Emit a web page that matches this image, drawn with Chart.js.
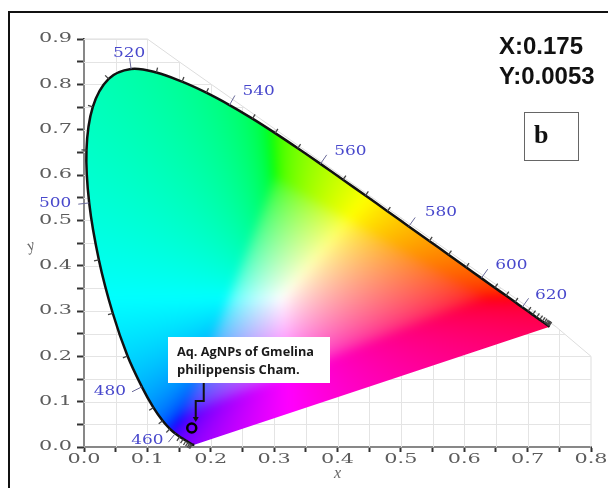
<!DOCTYPE html>
<html>
<head>
<meta charset="utf-8">
<script src="https://cdn.jsdelivr.net/npm/chart.js@4.4.1/dist/chart.umd.min.js"></script>
<style>
	html, body { margin: 0; padding: 0; background: #fff; }
	canvas { display: block; }
</style>
</head>
<body>
<canvas id="cieChart" width="608" height="488"></canvas>
<script>
// CIE 1931 spectral locus, as drawn in the reference
var wavelengths = [380, 385, 390, 395, 400, 405, 410, 415, 420, 425, 430, 435,
		440, 445, 450, 455, 460, 465, 470, 475, 480, 485, 490, 495, 500, 505,
		510, 515, 520, 525, 530, 535, 540, 545, 550, 555, 560, 565, 570, 575,
		580, 585, 590, 595, 600, 605, 610, 615, 620, 625, 630, 635, 640, 645,
		650, 655, 660, 665, 670, 680, 690, 700];
var locusX = [0.1741, 0.1740, 0.1738, 0.1736, 0.1733, 0.1730, 0.1726, 0.1721,
		0.1714, 0.1703, 0.1689, 0.1669, 0.1644, 0.1611, 0.1566, 0.1510, 0.1440,
		0.1355, 0.1241, 0.1096, 0.0913, 0.0687, 0.0454, 0.0235, 0.0082, 0.0039,
		0.0139, 0.0389, 0.0743, 0.1142, 0.1547, 0.1929, 0.2296, 0.2658, 0.3016,
		0.3373, 0.3731, 0.4087, 0.4441, 0.4788, 0.5125, 0.5448, 0.5752, 0.6029,
		0.6270, 0.6482, 0.6658, 0.6801, 0.6915, 0.7006, 0.7079, 0.7140, 0.7190,
		0.7230, 0.7260, 0.7283, 0.7300, 0.7311, 0.7320, 0.7334, 0.7344, 0.7347];
var locusY = [0.0050, 0.0050, 0.0049, 0.0049, 0.0048, 0.0048, 0.0048, 0.0048,
		0.0051, 0.0058, 0.0069, 0.0086, 0.0109, 0.0138, 0.0177, 0.0227, 0.0297,
		0.0399, 0.0578, 0.0868, 0.1327, 0.2007, 0.2950, 0.4127, 0.5384, 0.6548,
		0.7502, 0.8120, 0.8338, 0.8262, 0.8059, 0.7816, 0.7543, 0.7243, 0.6923,
		0.6589, 0.6245, 0.5896, 0.5547, 0.5202, 0.4866, 0.4544, 0.4242, 0.3965,
		0.3725, 0.3514, 0.3340, 0.3197, 0.3083, 0.2993, 0.2920, 0.2859, 0.2809,
		0.2770, 0.2740, 0.2717, 0.2700, 0.2689, 0.2680, 0.2666, 0.2656, 0.2653];
var labelledWavelengths = [460, 480, 500, 520, 540, 560, 580, 600, 620];

// sample point
var sampleX = [0.170];
var sampleY = [0.042];
var sampleLabel = ['Aq. AgNPs of Gmelina', 'philippensis Cham.'];
var coordText = ['X:0.175', 'Y:0.0053'];
var panelLetter = 'b';

(function() {
	'use strict';
	var fillCanvas = null;
	var FILL_MARGIN = 30;

	// outline of the faint grid behind the diagram (data units)
	var gridOutline = [ [0, 0], [0, 0.9], [0.1, 0.9], [0.15, 0.85],
			[0.745, 0.265], [0.8, 0.2], [0.8, 0] ];
	// where each wavelength label sits, relative to its locus point (px)
	var labelOffsets = {
		460 : [-28, 7], 480 : [-32, 5], 500 : [-34, 1], 520 : [-2, -15],
		540 : [29, -13], 560 : [30, -12], 580 : [32, -14], 600 : [30, -13],
		620 : [29, -12]
	};

	function gammaC(c) {
		return c <= 0.0031308 ? 12.92 * c : 1.055 * Math.pow(c, 1 / 2.4) - 0.055;
	}

	function chromaColour(x, y) {
		x = Math.max(x, 0);
		y = Math.max(y, 0.002);
		var X = x / y, Y = 1, Z = Math.max(1 - x - y, 0) / y;
		var r = 3.2406 * X - 1.5372 * Y - 0.4986 * Z;
		var g = -0.9689 * X + 1.8758 * Y + 0.0415 * Z;
		var b = 0.0557 * X - 0.2040 * Y + 1.0570 * Z;
		var m = Math.min(r, g, b);
		if (m < 0) {
			r -= m; g -= m; b -= m;
		}
		var mx = Math.max(r, g, b);
		if (mx <= 0) {
			return [255, 255, 255];
		}
		return [ gammaC(r / mx) * 255, gammaC(g / mx) * 255, gammaC(b / mx) * 255 ];
	}

	function buildFill(chart) {
		var a = chart.chartArea, xs = chart.scales.x, ys = chart.scales.y;
		var w = Math.ceil(a.right - a.left) + 2 * FILL_MARGIN;
		var h = Math.ceil(a.bottom - a.top) + 2 * FILL_MARGIN;
		var raw = document.createElement('canvas');
		raw.width = w;
		raw.height = h;
		var rx = raw.getContext('2d');
		var img = rx.createImageData(w, h);
		for (var j = 0; j < h; j++) {
			var yv = ys.getValueForPixel(a.top - FILL_MARGIN + j + 0.5);
			for (var i = 0; i < w; i++) {
				var xv = xs.getValueForPixel(a.left - FILL_MARGIN + i + 0.5);
				var col = chromaColour(xv, yv);
				var k = (j * w + i) * 4;
				img.data[k] = col[0];
				img.data[k + 1] = col[1];
				img.data[k + 2] = col[2];
				img.data[k + 3] = 255;
			}
		}
		rx.putImageData(img, 0, 0);
		// soften the gamut ridges, as in the reference
		var c = document.createElement('canvas');
		c.width = w;
		c.height = h;
		var cx = c.getContext('2d');
		cx.filter = 'blur(5px)';
		cx.drawImage(raw, 0, 0);
		return c;
	}

	function locusPath(chart, ctx) {
		var meta = chart.getDatasetMeta(0);
		var line = meta.dataset;
		ctx.beginPath();
		var done = false;
		try {
			if (line && typeof line.path === 'function') {
				if (typeof line.updateControlPoints === 'function') {
					line.updateControlPoints(chart.chartArea, meta.iScale.axis);
				}
				line.path(ctx);
				done = true;
			}
		} catch (e) {
			done = false;
			ctx.beginPath();
		}
		if (!done) {
			meta.data.forEach(function(p, i) {
				if (i === 0) {
					ctx.moveTo(p.x, p.y);
				} else {
					ctx.lineTo(p.x, p.y);
				}
			});
		}
		ctx.closePath();
	}

	function wideText(ctx, text, x, y, align, sx) {
		ctx.save();
		ctx.translate(x, y);
		ctx.scale(sx, 1);
		ctx.textAlign = align;
		ctx.textBaseline = 'middle';
		ctx.fillText(text, 0, 0);
		ctx.restore();
	}

	var ciePlugin = {
		id : 'cieDiagram',
		beforeDatasetsDraw : function(chart) {
			var ctx = chart.ctx, xs = chart.scales.x, ys = chart.scales.y;
			var v;
			// faint grid
			ctx.save();
			ctx.beginPath();
			gridOutline.forEach(function(p, i) {
				var px = xs.getPixelForValue(p[0]), py = ys.getPixelForValue(p[1]);
				if (i === 0) {
					ctx.moveTo(px, py);
				} else {
					ctx.lineTo(px, py);
				}
			});
			ctx.closePath();
			ctx.strokeStyle = '#dddddd';
			ctx.lineWidth = 1;
			ctx.stroke();
			ctx.clip();
			ctx.beginPath();
			for (v = 0.05; v <= 0.8001; v += 0.05) {
				var gx = Math.round(xs.getPixelForValue(v)) + 0.5;
				ctx.moveTo(gx, ys.getPixelForValue(0));
				ctx.lineTo(gx, ys.getPixelForValue(0.9));
			}
			for (v = 0.05; v <= 0.9001; v += 0.05) {
				var gy = Math.round(ys.getPixelForValue(v)) + 0.5;
				ctx.moveTo(xs.getPixelForValue(0), gy);
				ctx.lineTo(xs.getPixelForValue(0.8), gy);
			}
			ctx.strokeStyle = '#e4e4e4';
			ctx.stroke();
			ctx.restore();

			// colour gamut
			if (!fillCanvas) {
				fillCanvas = buildFill(chart);
			}
			ctx.save();
			locusPath(chart, ctx);
			ctx.clip();
			ctx.drawImage(fillCanvas, chart.chartArea.left - FILL_MARGIN,
					chart.chartArea.top - FILL_MARGIN);
			ctx.restore();
		},
		afterDatasetsDraw : function(chart) {
			var ctx = chart.ctx;
			var pts = chart.getDatasetMeta(0).data;
			var cx = 0, cy = 0;
			pts.forEach(function(p) {
				cx += p.x;
				cy += p.y;
			});
			cx /= pts.length;
			cy /= pts.length;

			ctx.save();
			for (var i = 1; i < pts.length - 1; i++) {
				var tx = pts[i + 1].x - pts[i - 1].x, ty = pts[i + 1].y - pts[i - 1].y;
				var len = Math.sqrt(tx * tx + ty * ty);
				if (len < 1.5) {
					continue;
				}
				var nx = -ty / len, ny = tx / len;
				if (nx * (pts[i].x - cx) + ny * (pts[i].y - cy) < 0) {
					nx = -nx;
					ny = -ny;
				}
				var wl = wavelengths[i];
				var labelled = labelledWavelengths.indexOf(wl) >= 0;
				ctx.beginPath();
				ctx.moveTo(pts[i].x, pts[i].y);
				ctx.lineTo(pts[i].x + nx * (labelled ? 11 : 5), pts[i].y + ny * (labelled ? 11 : 5));
				ctx.strokeStyle = labelled ? '#6a6a9a' : '#444';
				ctx.lineWidth = labelled ? 1 : 1.3;
				ctx.stroke();
				if (labelled) {
					var off = labelOffsets[wl];
					ctx.fillStyle = '#4848cc';
					ctx.font = '13px "DejaVu Serif"';
					wideText(ctx, String(wl), pts[i].x + off[0], pts[i].y + off[1], 'center', 1.3);
				}
			}
			ctx.restore();

			// label box and arrow to the sample point
			var sp = chart.getDatasetMeta(1).data[0];
			ctx.save();
			ctx.fillStyle = '#ffffff';
			ctx.fillRect(168, 337, 162, 46);
			ctx.fillStyle = '#1a1a1a';
			ctx.font = 'bold 13px "Open Sans"';
			ctx.textBaseline = 'middle';
			ctx.textAlign = 'left';
			ctx.fillText(sampleLabel[0], 177, 352, 137);
			ctx.fillText(sampleLabel[1], 177, 370, 137);
			ctx.strokeStyle = '#111';
			ctx.lineWidth = 2;
			ctx.beginPath();
			ctx.moveTo(sp.x + 12, 383);
			ctx.lineTo(sp.x + 12, 401);
			ctx.lineTo(sp.x + 4, 401);
			ctx.lineTo(sp.x + 4, sp.y - 10);
			ctx.stroke();
			ctx.fillStyle = '#111';
			ctx.beginPath();
			ctx.moveTo(sp.x + 1, sp.y - 11);
			ctx.lineTo(sp.x + 7, sp.y - 11);
			ctx.lineTo(sp.x + 4, sp.y - 6);
			ctx.closePath();
			ctx.fill();
			ctx.restore();
		},
		afterDraw : function(chart) {
			var ctx = chart.ctx, xs = chart.scales.x, ys = chart.scales.y;
			var k;
			ctx.save();
			ctx.fillStyle = '#5c5c5c';
			ctx.font = '13px "DejaVu Serif"';
			for (k = 0; k <= 9; k++) {
				wideText(ctx, (k / 10).toFixed(1), 72, ys.getPixelForValue(k / 10), 'right', 1.6);
			}
			for (k = 0; k <= 8; k++) {
				wideText(ctx, (k / 10).toFixed(1), xs.getPixelForValue(k / 10), 460, 'center', 1.6);
			}
			ctx.font = 'italic 16px "Liberation Serif"';
			ctx.fillStyle = '#666';
			ctx.textAlign = 'center';
			ctx.textBaseline = 'middle';
			ctx.fillText('x', (chart.chartArea.left + chart.chartArea.right) / 2, 474);
			ctx.save();
			ctx.translate(31, 246);
			ctx.rotate(-0.35);
			ctx.fillText('y', 0, 0);
			ctx.restore();

			// coordinates and panel letter
			ctx.fillStyle = '#111';
			ctx.font = 'bold 24px "Liberation Sans"';
			ctx.textAlign = 'left';
			ctx.fillText(coordText[0], 499, 47);
			ctx.fillText(coordText[1], 499, 77);
			ctx.strokeStyle = '#666';
			ctx.lineWidth = 1;
			ctx.strokeRect(524.5, 112.5, 54, 48);
			ctx.font = 'bold 26px "Liberation Serif"';
			ctx.textBaseline = 'alphabetic';
			ctx.fillText(panelLetter, 534, 143);

			// frame
			ctx.strokeStyle = '#111';
			ctx.lineWidth = 2;
			ctx.strokeRect(9, 12, 640, 520);
			ctx.restore();
		}
	};

	var locusData = locusX.map(function(x, i) {
		return { x : x, y : locusY[i] };
	});
	var sampleData = sampleX.map(function(x, i) {
		return { x : x, y : sampleY[i] };
	});

	new Chart(document.getElementById('cieChart'), {
		type : 'line',
		data : {
			datasets : [ {
				data : locusData,
				borderColor : '#111',
				borderWidth : 2.5,
				pointRadius : 0,
				tension : 0.35,
				fill : false
			}, {
				type : 'scatter',
				data : sampleData,
				pointRadius : 4.5,
				pointBorderWidth : 2.5,
				borderColor : '#000',
				backgroundColor : 'rgba(0,0,0,0)'
			} ]
		},
		options : {
			responsive : false,
			animation : false,
			devicePixelRatio : 1,
			layout : {
				padding : { left : 0, top : 39, right : 17, bottom : 0 }
			},
			plugins : {
				legend : { display : false },
				tooltip : { enabled : false }
			},
			scales : {
				x : {
					type : 'linear',
					min : 0,
					max : 0.8,
					afterFit : function(s) {
						s.height = 41;
					},
					ticks : { display : false, stepSize : 0.05, maxTicksLimit : 30 },
					grid : {
						drawOnChartArea : false,
						tickLength : 5,
						tickWidth : 2,
						tickColor : '#333',
						color : 'rgba(0,0,0,0)'
					},
					border : { display : true, color : '#333', width : 2 }
				},
				y : {
					type : 'linear',
					min : 0,
					max : 0.9,
					afterFit : function(s) {
						s.width = 84;
					},
					ticks : { display : false, stepSize : 0.05, maxTicksLimit : 30 },
					grid : {
						drawOnChartArea : false,
						tickLength : 7,
						tickWidth : 2,
						tickColor : '#333',
						color : 'rgba(0,0,0,0)'
					},
					border : { display : true, color : '#333', width : 2 }
				}
			}
		},
		plugins : [ ciePlugin ]
	});
})();
</script>
</body>
</html>
